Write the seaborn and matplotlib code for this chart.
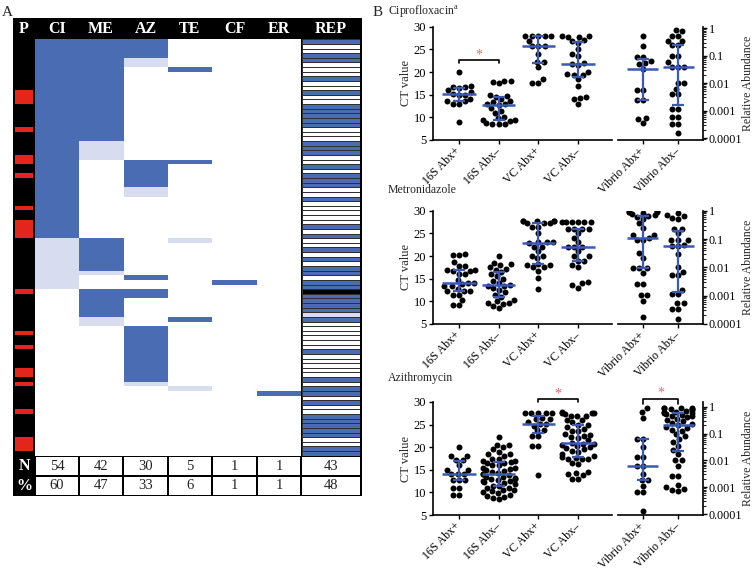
import numpy as np
import pandas as pd
import matplotlib
matplotlib.use('Agg')
import matplotlib.pyplot as plt
import seaborn as sns
from matplotlib.colors import ListedColormap
from matplotlib.patches import Rectangle
from matplotlib import ticker

sns.set_theme(style='ticks')
plt.rcParams['font.family'] = ['Liberation Serif', 'DejaVu Serif']
plt.rcParams['mathtext.fontset'] = 'custom'
plt.rcParams['mathtext.rm'] = 'Liberation Serif'

# ---------------- Panel A data ----------------
n_rows = 90
col_labels = ['P', 'CI', 'ME', 'AZ', 'TE', 'CF', 'ER', 'REP']
# (start row, number of rows, code)  code 1 = positive (dark), 2 = light
CI_runs = [(0, 43, 1), (43, 11, 2)]
ME_runs = [(0, 22, 1), (22, 4, 2), (43, 7, 1), (50, 1, 2), (54, 6, 1), (60, 2, 2)]
AZ_runs = [(0, 4, 1), (4, 2, 2), (26, 6, 1), (32, 2, 2), (51, 1, 1), (54, 2, 1),
           (62, 12, 1), (74, 1, 2)]
TE_runs = [(6, 1, 1), (26, 1, 1), (43, 1, 2), (60, 1, 1), (75, 1, 2)]
CF_runs = [(52, 1, 1)]
ER_runs = [(76, 1, 1)]
P_rows = [11, 12, 13, 19, 25, 26, 29, 36, 39, 40, 41, 42, 54, 63, 66, 71, 72, 74,
          80, 86, 87, 88]
REP_pos = [0, 3, 4, 8, 11, 14, 15, 16, 17, 18, 22, 23, 24, 27, 29, 30, 31, 34, 40,
           42, 45, 47, 49, 50, 52, 53, 55, 56, 57, 58, 60, 67, 73, 75, 76, 78, 81,
           82, 83, 84, 85, 88, 89]
REP_light = [59]
REP_missing = [54]

# ---------------- Panel B data ----------------
left_cats = ['16S Abx+', '16S Abx\u2013', 'VC Abx+', 'VC Abx\u2013']
right_cats = ['Vibrio Abx+', 'Vibrio Abx\u2013']

cip_16s_pos = [20.1, 17.0, 16.8, 16.8, 16.5, 16.0, 15.5, 15.2, 15.0, 15.0, 14.0, 13.5,
               13.5, 13.0, 13.0, 9.0]
cip_16s_neg = [18.0, 18.0, 17.8, 17.5, 15.0, 14.7, 14.5, 14.0, 13.5, 13.3, 13.0, 12.9,
               12.8, 12.0, 11.5, 11.0, 10.0, 9.8, 9.5, 9.5, 9.3, 8.8, 8.5, 8.5, 8.5]
cip_vc_pos = [27.9, 27.9, 27.9, 27.9, 27.9, 26.8, 25.7, 25.7, 25.7, 24.0, 22.3, 22.3,
              21.0, 18.4, 17.5, 17.5]
cip_vc_neg = [27.8, 27.9, 28.0, 27.8, 27.0, 26.8, 26.5, 25.0, 24.0, 23.5, 22.0, 21.8,
              21.5, 20.0, 19.5, 19.4, 19.4, 18.5, 17.0, 14.5, 14.3, 14.0, 13.0]
cip_vib_pos = [0.537, 0.224, 0.0912, 0.0912, 0.0631, 0.0562, 0.0501, 0.0339, 0.00575,
               0.00575, 0.00251, 0.00251, 0.000537, 0.000501, 0.000355]
cip_vib_neg = [0.871, 0.759, 0.525, 0.525, 0.355, 0.355, 0.245, 0.245, 0.1, 0.1,
               0.0603, 0.0398, 0.0389, 0.0398, 0.01, 0.01, 0.0063, 0.00398, 0.00398,
               0.00115, 0.00115, 0.000575, 0.000575, 0.000324, 0.000324, 0.000148]

met_16s_pos = [20.2, 20.5, 20.2, 18.7, 17.9, 17.9, 17.0, 17.0, 16.8, 16.1, 16.1, 14.8,
               14.0, 14.0, 13.3, 13.3, 12.2, 12.2, 12.2, 11.5, 11.5, 10.4, 9.3, 9.3,
               13.8, 16.6, 12.8]
met_16s_neg = [20.1, 18.5, 18.2, 18.0, 17.5, 17.2, 17.0, 16.4, 16.0, 15.5, 15.0, 14.5,
               14.0, 13.6, 13.4, 13.3, 13.0, 12.5, 12.0, 11.5, 11.0, 10.4, 10.0, 9.7,
               9.6, 9.5, 9.0, 8.5]
met_vc_pos = [27.8, 27.8, 27.8, 27.8, 27.8, 27.2, 27.2, 27.2, 26.5, 26.5, 25.0, 23.0,
              23.0, 23.0, 22.8, 22.0, 22.0, 21.0, 20.0, 20.0, 19.5, 18.2, 18.0, 18.0,
              17.5, 17.5, 16.8, 15.2, 12.8]
met_vc_neg = [27.6, 27.6, 27.6, 27.6, 27.5, 27.5, 26.0, 26.0, 26.0, 26.0, 25.0, 24.0,
              23.0, 22.0, 22.0, 22.0, 21.0, 20.0, 20.0, 19.0, 19.0, 18.0, 17.5, 14.2,
              14.0, 13.5, 13.0]
met_vib_pos = [0.955, 0.933, 0.891, 0.871, 0.832, 0.794, 0.708, 0.631, 0.603, 0.501,
               0.355, 0.251, 0.141, 0.141, 0.112, 0.0933, 0.0933, 0.0316, 0.0219,
               0.00912, 0.00912, 0.00912, 0.00631, 0.00269, 0.00269, 0.00105, 0.00105,
               0.000661, 0.000178]
met_vib_neg = [0.832, 0.724, 0.631, 0.562, 0.501, 0.224, 0.224, 0.158, 0.0933, 0.0933,
               0.0933, 0.0631, 0.0575, 0.0575, 0.0295, 0.01, 0.00708, 0.00537, 0.00537,
               0.00158, 0.00112, 0.00112, 0.000562, 0.000562, 0.000347, 0.000347,
               0.000155]

azi_16s_pos = [20.0, 18.0, 18.1, 17.2, 17.2, 16.0, 15.0, 15.0, 14.0, 14.0, 14.0, 12.7,
               12.7, 12.7, 11.0, 11.0, 9.4, 9.4]
azi_16s_neg = [22.2, 20.5, 20.5, 20.0, 19.5, 19.0, 18.5, 18.5, 18.0, 17.5, 17.5, 17.0,
               17.0, 16.8, 16.5, 16.5, 16.0, 16.0, 15.5, 15.5, 15.2, 15.0, 14.8, 14.5,
               14.3, 14.0, 14.0, 13.8, 13.5, 13.5, 13.2, 13.0, 13.0, 12.8, 12.5, 12.5,
               12.2, 12.0, 11.8, 11.5, 11.5, 11.0, 11.0, 10.5, 10.5, 10.2, 10.0, 9.8,
               9.5, 9.3, 9.0, 8.8, 8.5]
azi_vc_pos = [27.5, 27.5, 27.5, 27.5, 27.5, 26.5, 26.2, 26.2, 25.5, 25.2, 25.2, 24.8,
              23.7, 23.7, 22.4, 22.4, 20.3, 20.3, 13.8]
azi_vc_neg = [27.7, 27.6, 27.5, 27.5, 27.3, 27.0, 27.0, 26.8, 26.0, 26.0, 25.5, 25.0,
              25.0, 24.5, 24.0, 23.6, 23.5, 23.0, 22.8, 22.5, 22.3, 22.0, 21.5, 21.0,
              20.8, 20.6, 20.5, 20.3, 20.0, 19.8, 19.5, 19.2, 19.0, 18.5, 18.0, 17.8,
              17.6, 17.5, 17.5, 17.3, 16.5, 16.3, 14.5, 14.2, 14.0, 13.8, 13.0, 13.0]
azi_vib_pos = [0.871, 0.617, 0.372, 0.0603, 0.0603, 0.0324, 0.0129, 0.0129, 0.00631,
               0.00631, 0.00316, 0.00186, 0.00186, 0.00112, 0.000646, 0.000646,
               0.000132]
azi_vib_neg = [0.933, 0.912, 0.891, 0.871, 0.832, 0.794, 0.759, 0.708, 0.661, 0.631,
               0.603, 0.562, 0.525, 0.501, 0.468, 0.437, 0.398, 0.355, 0.316, 0.282,
               0.251, 0.224, 0.2, 0.17, 0.158, 0.141, 0.126, 0.1, 0.0794, 0.0631,
               0.0501, 0.0355, 0.0251, 0.0178, 0.01, 0.01, 0.00631, 0.00269, 0.00269,
               0.00126, 0.001, 0.000891, 0.000794, 0.000708]

# significance brackets: (cat a, cat b, bracket height)
cip_sig_left = [(0, 1, 22.7)]
azi_sig_left = [(2, 3, 30.7)]
azi_sig_right = [(0, 1, 1.9)]

# ---------------- styling ----------------
W, H = 753, 571
BLUE = '#4a6cb2'
LIGHT = '#d8dcef'
RED = '#e4251b'
BBLUE = '#3a5ab4'
AST = '#ef6a5e'

fig = plt.figure(figsize=(W / 100, H / 100), dpi=100)
fig.patch.set_facecolor('white')


def box(x0, y0, x1, y1):
    return [x0 / W, 1 - y1 / H, (x1 - x0) / W, (y1 - y0) / H]


def clean(ax):
    ax.set_xticks([])
    ax.set_yticks([])
    ax.set_xlabel('')
    ax.set_ylabel('')
    for s in ax.spines.values():
        s.set_visible(False)


def median_iqr(ax, groups, log=False, half=0.42, cap=0.15):
    for i, v in enumerate(groups):
        v = np.asarray(v, dtype=float)
        if log:
            lv = np.log10(v)
            med = 10 ** np.median(lv)
            q1, q3 = 10 ** np.percentile(lv, [25, 75])
        else:
            med = np.median(v)
            q1, q3 = np.percentile(v, [25, 75])
        ax.hlines(med, i - half, i + half, color=BBLUE, lw=1.8, zorder=4)
        ax.vlines(i, q1, q3, color=BBLUE, lw=1.6, zorder=4)
        ax.hlines([q1, q3], i - cap, i + cap, color=BBLUE, lw=1.6, zorder=4)


# ---------------- Panel A ----------------
M = np.zeros((n_rows, 6), dtype=int)
for j, runs in enumerate([CI_runs, ME_runs, AZ_runs, TE_runs, CF_runs, ER_runs]):
    for s, n, c in runs:
        M[s:s + n, j] = c
P = np.zeros((n_rows, 1), dtype=int)
P[P_rows, 0] = 1
R = np.zeros((n_rows, 1), dtype=int)
R[REP_pos, 0] = 1
R[REP_light, 0] = 2
R[REP_missing, 0] = 3

col_edges = [13, 35, 79, 123, 168, 212, 257, 301, 361]
row_top, row_bot = 39.3, 455.7

axA = fig.add_axes(box(13, 18, 362, 496))
axA.set_facecolor('black')
axA.set_xlim(13, 362)
axA.set_ylim(496, 18)
clean(axA)
for k, lab in enumerate(col_labels):
    cx = (col_edges[k] + col_edges[k + 1]) / 2
    axA.text(cx, 29, lab, color='white', fontweight='bold', fontsize=11.5,
             ha='center', va='center')

axM = fig.add_axes(box(35, row_top, 301, row_bot))
sns.heatmap(M, ax=axM, cmap=ListedColormap(['white', BLUE, LIGHT]), vmin=-0.5,
            vmax=2.5, cbar=False, xticklabels=False, yticklabels=False)
clean(axM)

axP = fig.add_axes(box(15, row_top, 33.3, row_bot))
sns.heatmap(P, ax=axP, cmap=ListedColormap(['black', RED]), vmin=-0.5, vmax=1.5,
            cbar=False, xticklabels=False, yticklabels=False)
clean(axP)

axRep = fig.add_axes(box(302, row_top, 360.3, row_bot))
sns.heatmap(R, ax=axRep, cmap=ListedColormap(['white', BLUE, LIGHT, 'black']),
            vmin=-0.5, vmax=3.5, cbar=False, xticklabels=False, yticklabels=False,
            linewidths=0.6, linecolor='#303030')
clean(axRep)

counts = [int((M[:, j] > 0).sum()) for j in range(6)] + [int((R[:, 0] == 1).sum())]
pcts = [int(round(100 * c / n_rows)) for c in counts]
rows_y = [(456.7, 475.3), (476.7, 494.5)]
axA.text(24, sum(rows_y[0]) / 2, 'N', color='white', fontweight='bold',
         fontsize=11.5, ha='center', va='center')
axA.text(24, sum(rows_y[1]) / 2 + 0.5, '%', color='white', fontweight='bold',
         fontsize=11.5, ha='center', va='center')
for k in range(7):
    x0, x1 = col_edges[k + 1] + 0.7, col_edges[k + 2] - 0.7
    for (y0, y1), vals in zip(rows_y, [counts, pcts]):
        axA.add_patch(Rectangle((x0, y0), x1 - x0, y1 - y0, facecolor='white',
                                edgecolor='none'))
        axA.text((x0 + x1) / 2, (y0 + y1) / 2, str(vals[k]), fontsize=10.5,
                 ha='center', va='center', color='#222222')

fig.text(2 / W, 1 - 12 / H, 'A', fontsize=11, ha='left', va='center')

# ---------------- Panel B ----------------
fig.text(373 / W, 1 - 12.5 / H, 'B', fontsize=11, ha='left', va='center')

panels = [
    ('Ciprofloxacin$^{\\mathrm{a}}$', 12, 26.7, 140,
     [cip_16s_pos, cip_16s_neg, cip_vc_pos, cip_vc_neg], [cip_vib_pos, cip_vib_neg],
     (8.5e-5, 1.13), cip_sig_left, []),
    ('Metronidazole', 190, 210.7, 324,
     [met_16s_pos, met_16s_neg, met_vc_pos, met_vc_neg], [met_vib_pos, met_vib_neg],
     (1e-4, 1.0), [], []),
    ('Azithromycin', 377.5, 402, 515,
     [azi_16s_pos, azi_16s_neg, azi_vc_pos, azi_vc_neg], [azi_vib_pos, azi_vib_neg],
     (0.92e-4, 1.5), azi_sig_left, azi_sig_right),
]

TICK_FS = 9
XT_FS = 8.5
DOT = 4.3
for title, ty, top, bot, lvals, rvals, rlim, sigL, sigR in panels:
    fig.text(388 / W, 1 - ty / H, title, fontsize=8.5, ha='left', va='center')

    # ----- left (CT value) -----
    axL = fig.add_axes(box(433, top, 612, bot))
    dfL = pd.DataFrame({'group': np.repeat(left_cats, [len(v) for v in lvals]),
                        'value': np.concatenate(lvals)})
    sns.swarmplot(data=dfL, x='group', y='value', order=left_cats, color='black',
                  size=DOT, ax=axL, zorder=2)
    median_iqr(axL, lvals)
    axL.set_xlim(-0.65, 3.85)
    axL.set_ylim(5, 30)
    axL.set_yticks([5, 10, 15, 20, 25, 30])
    axL.set_xticks(range(4))
    axL.set_xticklabels(left_cats, rotation=45, ha='right', va='center',
                        rotation_mode='anchor', fontsize=XT_FS)
    axL.set_xlabel('')
    axL.set_ylabel('CT value', fontsize=9, labelpad=1)
    axL.tick_params(axis='both', length=3, width=1, pad=2, colors='black',
                    labelsize=TICK_FS)
    axL.tick_params(axis='x', pad=4, labelsize=XT_FS)
    for s in ['top', 'right']:
        axL.spines[s].set_visible(False)
    for s in ['left', 'bottom']:
        axL.spines[s].set_linewidth(1.2)
        axL.spines[s].set_color('black')
    for a, b, h in sigL:
        axL.plot([a, a, b, b], [h - 0.8, h, h, h - 0.8], color='black', lw=1.2,
                 clip_on=False)
        axL.text((a + b) / 2, h + 1.1, '*', color=AST, fontsize=10, ha='center',
                 va='center', clip_on=False)

    # ----- right (Relative abundance) -----
    axR = fig.add_axes(box(618, top, 703, bot))
    dfR = pd.DataFrame({'group': np.repeat(right_cats, [len(v) for v in rvals]),
                        'value': np.concatenate(rvals)})
    sns.swarmplot(data=dfR, x='group', y='value', order=right_cats, color='black',
                  size=DOT, log_scale=True, ax=axR, zorder=2)
    axR.set_yscale('log')
    median_iqr(axR, rvals, log=True, half=0.44, cap=0.17)
    axR.set_xlim(-0.71, 1.71)
    axR.set_ylim(*rlim)
    axR.yaxis.tick_right()
    axR.yaxis.set_label_position('right')
    axR.set_yticks([1e-4, 1e-3, 1e-2, 1e-1, 1])
    axR.yaxis.set_major_formatter(ticker.FuncFormatter(lambda v, _: f'{v:g}'))
    axR.yaxis.set_minor_locator(ticker.LogLocator(base=10, subs=np.arange(2, 10),
                                                  numticks=20))
    axR.yaxis.set_minor_formatter(ticker.NullFormatter())
    axR.set_xticks(range(2))
    axR.set_xticklabels(right_cats, rotation=45, ha='right', va='center',
                        rotation_mode='anchor', fontsize=XT_FS)
    axR.set_xlabel('')
    axR.set_ylabel('Relative Abundance', fontsize=8.5, labelpad=0, rotation=90)
    axR.tick_params(axis='both', which='major', length=3, width=1, pad=1,
                    colors='black', labelsize=8.7, left=False, right=True)
    axR.tick_params(axis='y', which='minor', length=2, width=0.8, left=False,
                    right=True)
    axR.tick_params(axis='x', pad=4, labelsize=XT_FS)
    for s in ['top', 'left']:
        axR.spines[s].set_visible(False)
    for s in ['right', 'bottom']:
        axR.spines[s].set_linewidth(1.2)
        axR.spines[s].set_color('black')
    for a, b, h in sigR:
        axR.plot([a, a, b, b], [h / 1.5, h, h, h / 1.5], color='black', lw=1.2,
                 clip_on=False)
        axR.text((a + b) / 2, h * 1.75, '*', color=AST, fontsize=10, ha='center',
                 va='center', clip_on=False)

fig.savefig('out.png', dpi=100, facecolor='white')
